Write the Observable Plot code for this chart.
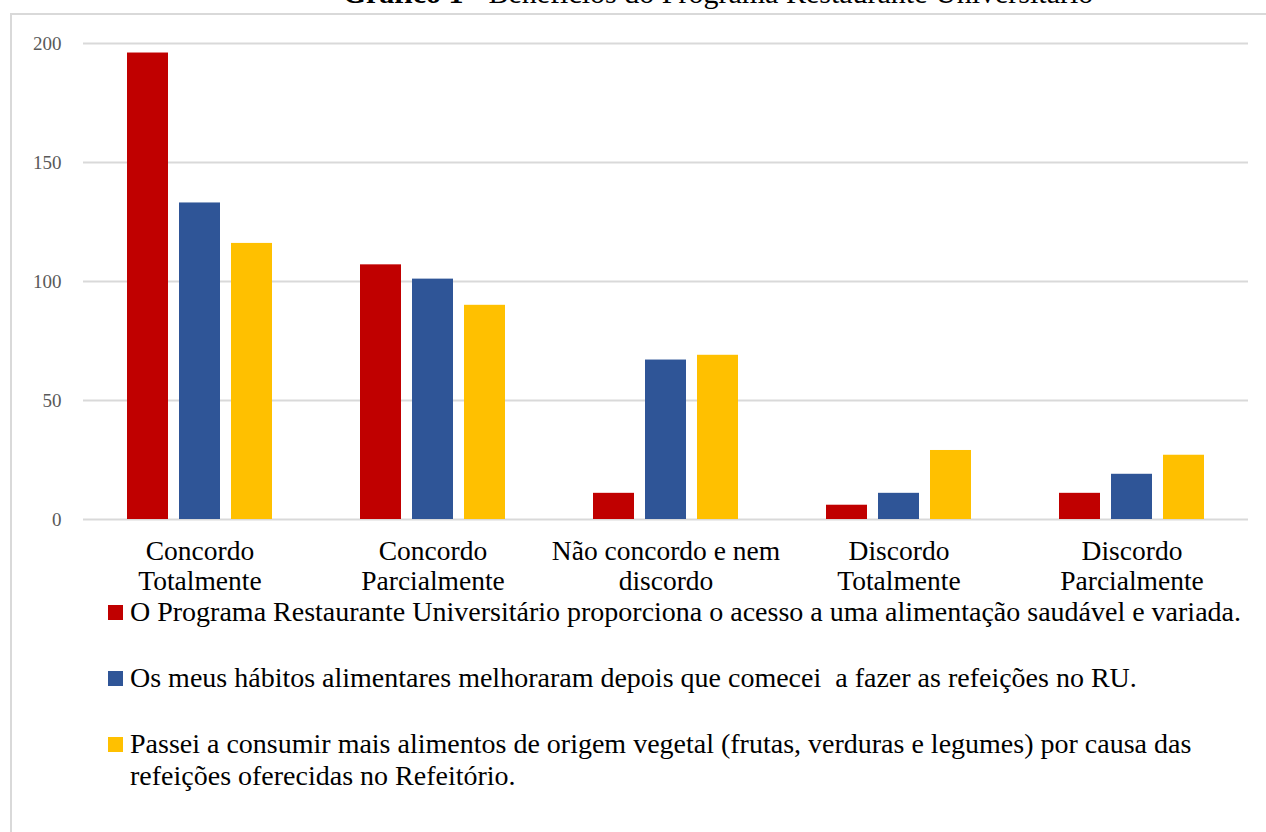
<!DOCTYPE html>
<html>
<head>
<meta charset="utf-8">
<script src="https://cdn.jsdelivr.net/npm/d3@7"></script>
<script src="https://cdn.jsdelivr.net/npm/@observablehq/plot@0.6"></script>
<style>
  html, body { margin: 0; padding: 0; background: #fff; overflow: hidden; }
  body { width: 1266px; height: 832px; position: relative; font-family: "Liberation Serif", "DejaVu Serif", serif; }
  #frame { position: absolute; left: 10px; top: 13px; width: 1300px; height: 900px; border: 2px solid #d9d9d9; box-sizing: border-box; }
  #title { position: absolute; left: 0; width: 1436px; top: -22px; line-height: 30px; text-align: center; font-size: 30px; color: #000; white-space: nowrap; }
  #chart { position: absolute; left: 0; top: 0; }
  #legend { position: absolute; left: 108px; top: 596px; font-size: 28px; color: #000; }
  .item { position: relative; padding-left: 22px; line-height: 32px; margin-bottom: 34px; white-space: pre; }
  .sw { position: absolute; left: 0; top: 9px; width: 15px; height: 15px; }
</style>
</head>
<body>
<div id="frame"></div>
<div id="title"><b>Gráfico 1</b> - Benefícios do Programa Restaurante Universitário</div>
<div id="chart"></div>
<div id="legend"></div>
<script>
const categories = ["Concordo\nTotalmente", "Concordo\nParcialmente", "Não concordo e nem\ndiscordo", "Discordo\nTotalmente", "Discordo\nParcialmente"];
const seriesNames = [
  "O Programa Restaurante Universitário proporciona o acesso a uma alimentação saudável e variada.",
  "Os meus hábitos alimentares melhoraram depois que comecei  a fazer as refeições no RU.",
  "Passei a consumir mais alimentos de origem vegetal (frutas, verduras e legumes) por causa das\nrefeições oferecidas no Refeitório."
];
const seriesColors = ["#C00000", "#2F5597", "#FFC000"];
const valuesSeries1 = [196, 107, 11, 6, 11];
const valuesSeries2 = [133, 101, 67, 11, 19];
const valuesSeries3 = [116, 90, 69, 29, 27];
const yTicks = [0, 50, 100, 150, 200];

const seriesValues = [valuesSeries1, valuesSeries2, valuesSeries3];
const data = [];
categories.forEach((c, i) => {
  seriesNames.forEach((s, j) => data.push({cat: c, series: s, value: seriesValues[j][i]}));
});

const plot = Plot.plot({
  width: 1266,
  height: 600,
  marginTop: 43,
  marginBottom: 81,
  marginLeft: 82,
  marginRight: 18,
  style: {fontFamily: "Liberation Serif, serif", background: "transparent", overflow: "visible"},
  fx: {domain: categories, padding: 0, label: null},
  x: {domain: seriesNames, paddingInner: 0.21, paddingOuter: 0.845, axis: null},
  y: {domain: [0, 200], label: null},
  color: {domain: seriesNames, range: seriesColors},
  marks: [
    Plot.ruleY(yTicks, {stroke: "#d9d9d9", strokeWidth: 2, strokeOpacity: 1}),
    Plot.barY(data, {fx: "cat", x: "series", y: "value", fill: "series"}),
    Plot.axisY({ticks: yTicks, tickSize: 0, tickPadding: 22, fontSize: 19, fill: "#595959", label: null, tickFormat: d => String(d)}),
    Plot.axisFx({anchor: "bottom", tickSize: 0, tickPadding: 19, fontSize: 27.5, fill: "#000", label: null, lineHeight: 1.1})
  ]
});
document.getElementById("chart").appendChild(plot);

const legend = document.getElementById("legend");
seriesNames.forEach((s, j) => {
  const item = document.createElement("div");
  item.className = "item";
  const sw = document.createElement("span");
  sw.className = "sw";
  sw.style.background = seriesColors[j];
  item.appendChild(sw);
  s.split("\n").forEach((line, k) => {
    if (k > 0) item.appendChild(document.createElement("br"));
    item.appendChild(document.createTextNode(line));
  });
  legend.appendChild(item);
});
</script>
</body>
</html>
